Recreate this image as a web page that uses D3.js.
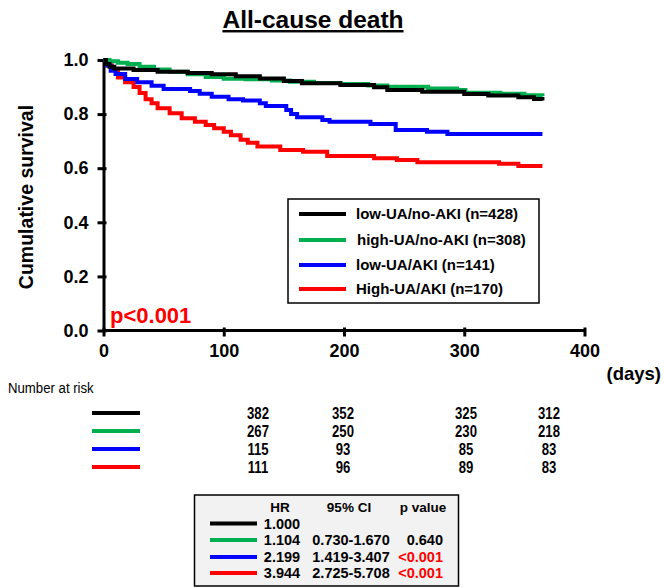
<!DOCTYPE html>
<html><head><meta charset="utf-8">
<script src="https://cdn.jsdelivr.net/npm/d3@7"></script>
<style>body{margin:0;background:#fff}svg{display:block;font-family:"Liberation Sans",Arial,sans-serif}</style>
</head><body><svg id="c" width="664" height="588"></svg>
<script>
const seriesNames = ["low-UA/no-AKI (n=428)","high-UA/no-AKI (n=308)","low-UA/AKI (n=141)","High-UA/AKI (n=170)"];
const seriesColors = ["#000000","#00b050","#0000ff","#ff0000"];
const blackCurve = [[0,1.0],[2,0.985],[5,0.975],[9,0.969],[25,0.963],[45,0.957],[70,0.952],[90,0.947],[110,0.940],[130,0.932],[150,0.922],[165,0.914],[197,0.908],[225,0.899],[236,0.889],[265,0.883],[300,0.874],[320,0.869],[345,0.862],[358,0.856],[365,0.850]];
const greenCurve = [[0,1.0],[5,0.995],[12,0.99],[20,0.985],[30,0.975],[42,0.965],[55,0.957],[70,0.947],[85,0.937],[100,0.931],[118,0.929],[140,0.924],[155,0.92],[175,0.915],[197,0.911],[220,0.906],[236,0.901],[270,0.895],[294,0.889],[301,0.879],[330,0.875],[350,0.870],[365,0.866]];
const blueCurve = [[0,1.0],[3,0.98],[6,0.96],[10,0.948],[18,0.93],[28,0.918],[40,0.905],[50,0.893],[72,0.885],[80,0.875],[90,0.864],[104,0.855],[116,0.85],[130,0.84],[135,0.83],[152,0.815],[156,0.80],[161,0.788],[182,0.778],[188,0.772],[222,0.763],[243,0.741],[269,0.735],[286,0.726],[365,0.726]];
const redCurve = [[0,1.0],[4,0.98],[7,0.963],[12,0.935],[18,0.918],[25,0.9],[30,0.878],[35,0.855],[40,0.84],[45,0.822],[55,0.803],[65,0.785],[76,0.772],[85,0.76],[92,0.748],[100,0.735],[106,0.722],[114,0.705],[120,0.694],[128,0.68],[147,0.667],[166,0.661],[186,0.645],[225,0.637],[244,0.63],[261,0.622],[329,0.616],[345,0.608],[365,0.608]];
const curves = [blackCurve, greenCurve, blueCurve, redCurve];
const xTicks = [0,100,200,300,400];
const yTicks = [0,0.2,0.4,0.6,0.8,1.0];
const riskTimes = [60,130,230,300];
const riskBlack = [382,352,325,312];
const riskGreen = [267,250,230,218];
const riskBlue = [115,93,85,83];
const riskRed = [111,96,89,83];
const riskRows = [riskBlack, riskGreen, riskBlue, riskRed];
const hrValues = ["1.000","1.104","2.199","3.944"];
const ciValues = ["","0.730-1.670","1.419-3.407","2.725-5.708"];
const pValues = ["","0.640","<0.001","<0.001"];
const pColors = ["#000","#000","#ff0000","#ff0000"];

const svg = d3.select("#c");
const x = d3.scaleLinear().domain([0,400]).range([103.5,584.5]);
const y = d3.scaleLinear().domain([0,1]).range([330.5,60]);

// title
svg.append("text").attr("x",313).attr("y",28).attr("text-anchor","middle")
  .attr("font-size",24.5).attr("font-weight","bold").attr("text-decoration","underline")
  .text("All-cause death");

// axes
const xAxis = svg.append("g").attr("transform","translate(0,330.5)")
  .call(d3.axisBottom(x).tickValues(xTicks).tickSize(6).tickSizeOuter(0).tickPadding(8));
const yAxis = svg.append("g").attr("transform","translate(103.5,0)")
  .call(d3.axisLeft(y).tickValues(yTicks).tickFormat(d3.format(".1f")).tickSize(6).tickSizeOuter(0).tickPadding(9));
[xAxis,yAxis].forEach(a=>{
  a.select(".domain").attr("stroke","#000").attr("stroke-width",3);
  a.selectAll(".tick line").attr("stroke","#000").attr("stroke-width",3);
  a.selectAll(".tick text").attr("font-size",18).attr("font-weight","bold").attr("fill","#000")
    .attr("font-family","'Liberation Sans',Arial,sans-serif");
});
xAxis.selectAll(".tick line").attr("y1",-3);
yAxis.selectAll(".tick line").attr("x1",3);
xAxis.select(".domain").attr("d","M103.5,0H584.5");

svg.append("text").attr("transform","translate(33,197) rotate(-90)").attr("text-anchor","middle")
  .attr("font-size",19.5).attr("font-weight","bold").text("Cumulative survival");
svg.append("text").attr("x",661).attr("y",380).attr("text-anchor","end")
  .attr("font-size",18.5).attr("font-weight","bold").text("(days)");

// curves
const line = d3.line().x(d=>x(d[0])).y(d=>y(d[1])).curve(d3.curveStepAfter);
const order = [3,2,1,0];
order.forEach(i=>{
  svg.append("path").datum(curves[i]).attr("d",line).attr("fill","none")
    .attr("stroke",seriesColors[i]).attr("stroke-width",4);
});

// p value
svg.append("text").attr("x",110).attr("y",323).attr("font-size",22).attr("font-weight","bold")
  .attr("fill","#ff0000").text("p<0.001");

// legend
const lg = svg.append("g");
lg.append("rect").attr("x",288).attr("y",199).attr("width",251).attr("height",104)
  .attr("fill","#fff").attr("stroke","#000").attr("stroke-width",1.5);
const legY = [214,240,265,289];
seriesNames.forEach((n,i)=>{
  lg.append("line").attr("x1",299).attr("x2",346).attr("y1",legY[i]).attr("y2",legY[i])
    .attr("stroke",seriesColors[i]).attr("stroke-width",4);
  lg.append("text").attr("x",i==1?357:356).attr("y",legY[i]).attr("dy","0.36em")
    .attr("font-size",15).attr("font-weight","bold").text(n);
});

// number at risk
svg.append("text").attr("transform","translate(8,393) scale(0.88,1)").attr("font-size",15).text("Number at risk");
const riskX = d3.scaleOrdinal().domain(riskTimes).range([258,343,466,549]);
const riskY = [413,431,449,467];
riskRows.forEach((row,i)=>{
  svg.append("line").attr("x1",92).attr("x2",140).attr("y1",riskY[i]).attr("y2",riskY[i])
    .attr("stroke",seriesColors[i]).attr("stroke-width",4);
  row.forEach((v,j)=>{
    svg.append("text").attr("transform",`translate(${riskX(riskTimes[j])},${riskY[i]}) scale(0.82,1)`)
      .attr("dy","0.36em")
      .attr("text-anchor","middle").attr("font-size",16).attr("font-weight","bold").text(v);
  });
});

// HR table
const tb = svg.append("g");
tb.append("rect").attr("x",194.5).attr("y",495).attr("width",264).attr("height",91)
  .attr("fill","#f2f2f2").attr("stroke","#000").attr("stroke-width",1.5);
const hdr = [["HR",280],["95% CI",349],["p value",423]];
hdr.forEach(h=>tb.append("text").attr("x",h[1]).attr("y",507).attr("dy","0.36em")
  .attr("text-anchor","middle").attr("font-size",13.5).attr("font-weight","bold").text(h[0]));
const rowY = [523.5,540,557,573];
hrValues.forEach((hr,i)=>{
  tb.append("line").attr("x1",210).attr("x2",257).attr("y1",rowY[i]).attr("y2",rowY[i])
    .attr("stroke",seriesColors[i]).attr("stroke-width",4);
  tb.append("text").attr("x",282).attr("y",rowY[i]).attr("dy","0.36em").attr("text-anchor","middle")
    .attr("font-size",14.5).attr("font-weight","bold").text(hr);
  tb.append("text").attr("x",351).attr("y",rowY[i]).attr("dy","0.36em").attr("text-anchor","middle")
    .attr("font-size",14.5).attr("font-weight","bold").text(ciValues[i]);
  tb.append("text").attr("x",443).attr("y",rowY[i]).attr("dy","0.36em").attr("text-anchor","end")
    .attr("font-size",14.5).attr("font-weight","bold").attr("fill",pColors[i]).text(pValues[i]);
});
</script></body></html>
